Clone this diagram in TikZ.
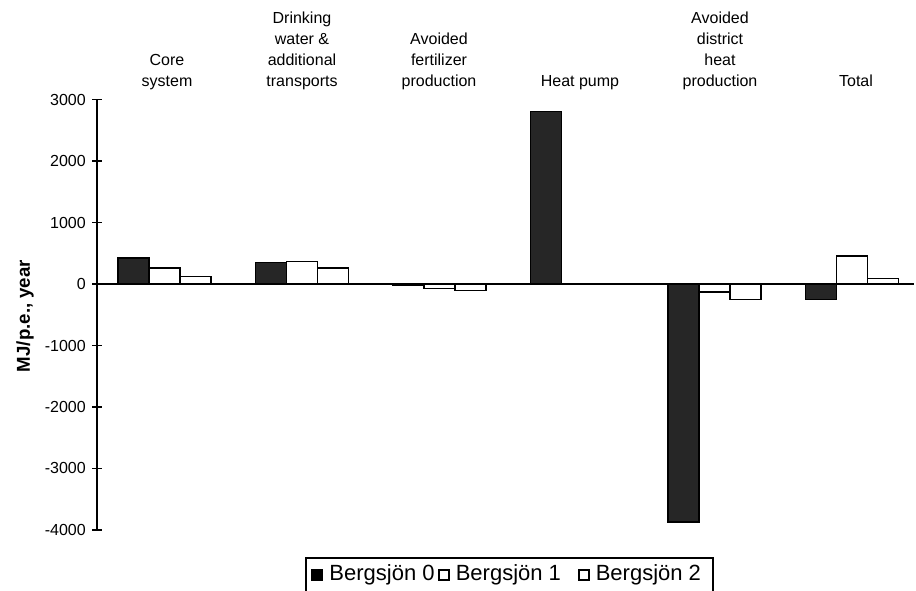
\documentclass[tikz,border=0pt]{standalone}
\usepackage{fontspec}
\setmainfont{Liberation Sans}
\usetikzlibrary{positioning}

\begin{document}
\begin{tikzpicture}[x=0.75pt,y=-0.75pt,
    every node/.style={inner sep=0pt,font=\fontsize{12}{15.75}\selectfont},
    darkbar/.style={draw=black,fill=black!85,line width=0.8pt},
    lightbar/.style={draw=black,fill=white,line width=0.8pt},
    catlabel/.style={align=center,anchor=south},
    keybox/.style={draw=black,line width=0.8pt,minimum size=7.5pt},
    keytext/.style={font=\fontsize{16.5}{19}\selectfont}]
\useasboundingbox (0,0) rectangle (916,591);
% bars: group, black, white 1, white 2 (MJ/p.e., year)
\foreach \g/\va/\vb/\vc in {0/423/260/115, 1/357/360/260, 2/-30/-70/-110,
                            3/2800/0/0, 4/-3870/-130/-250, 5/-250/455/95}
{
    \pgfmathsetmacro{\xs}{118+137.5*\g}
    \draw[darkbar] (\xs,284) rectangle ({\xs+31},{284-\va*0.0615});
    \ifdim \vb pt=0pt \else
    \draw[lightbar] ({\xs+31},284) rectangle ({\xs+62},{284-\vb*0.0615});
    \draw[lightbar] ({\xs+62},284) rectangle ({\xs+93},{284-\vc*0.0615});
    \fi
}
% axes
\draw[line width=1.6pt] (97,100) -- (97,531);
\draw[line width=1.6pt] (97,284) -- (914,284);
\foreach \v in {3000,2000,1000,0,-1000,-2000,-3000,-4000}
{
    \draw[line width=1.2pt] (92,{284-\v*0.0615}) -- (102,{284-\v*0.0615});
    \node[anchor=east] (tick\v) at (86,{284-\v*0.0615}) {\v};
}
\node[rotate=90,font=\fontsize{14}{16}\bfseries] (ylab) at (25,316) {MJ/p.e., year};
% category labels
\node[catlabel] (core) at (167,93) {Core\\system\strut};
\node[catlabel] (drink) at (302,93) {Drinking\\water \&\\additional\\transports\strut};
\node[catlabel] (fert) at (439,93) {Avoided\\fertilizer\\production\strut};
\node[catlabel] (heat) at (580,93) {Heat pump\strut};
\node[catlabel] (district) at (720,93) {Avoided\\district\\heat\\production\strut};
\node[catlabel] (total) at (856,93) {Total\strut};
% legend
\draw[line width=0.9pt] (306,591) |- (713,558) -- (713,591);
\node[keybox,fill=black] (key0) at (317,575) {};
\node[keytext,right=5pt of key0] (lab0) {Bergsjön 0};
\node[keybox,fill=white] (key1) at (444,575) {};
\node[keytext,right=4.5pt of key1] (lab1) {Bergsjön 1};
\node[keybox,fill=white] (key2) at (584,575) {};
\node[keytext,right=4.5pt of key2] (lab2) {Bergsjön 2};
\end{tikzpicture}
\end{document}
